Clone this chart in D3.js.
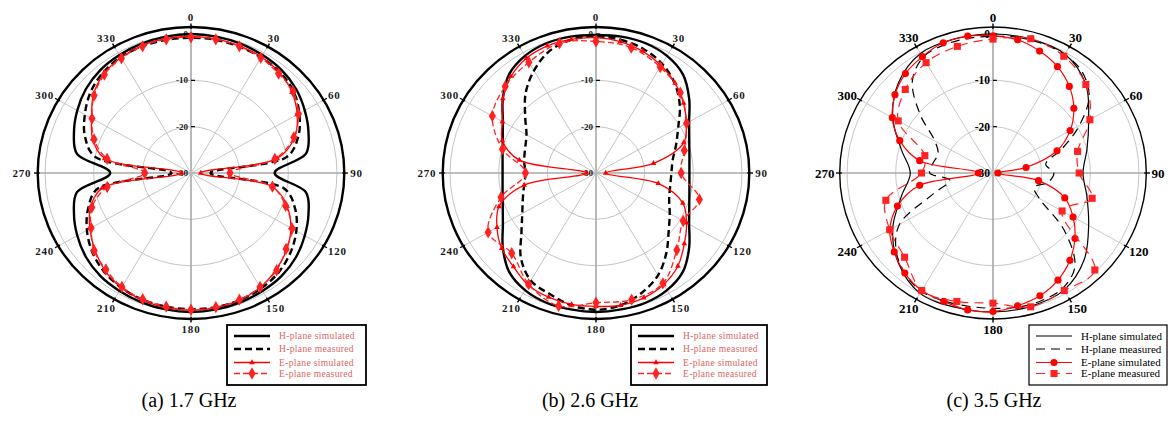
<!DOCTYPE html>
<html>
<head>
<meta charset="utf-8">
<script src="https://cdn.jsdelivr.net/npm/d3@7"></script>
<style>
  body { margin: 0; background: #fff; }
  text { font-family: "Liberation Serif", "Times New Roman", serif; }
</style>
</head>
<body>
<svg id="chart" width="1176" height="423"></svg>
<script>
// angles (deg, clockwise from top)
const anglesTen = [0,10,20,30,40,50,60,70,80,90,100,110,120,130,140,150,160,170,
                   180,190,200,210,220,230,240,250,260,270,280,290,300,310,320,330,340,350];
const anglesFifteen = [0,15,30,45,60,75,90,105,120,135,150,165,180,195,210,225,240,255,270,285,300,315,330,345];
const angleTicks = [0,30,60,90,120,150,180,210,240,270,300,330];
const dbTicks = [0,-10,-20,-30];
const seriesNames = ['H-plane simulated','H-plane measured','E-plane simulated','E-plane measured'];
const captions = ['(a) 1.7 GHz','(b) 2.6 GHz','(c) 3.5 GHz'];

// (a) 1.7 GHz, dB
const hSimA  = [0,-0.1,-0.3,-0.6,-1.0,-1.8,-3.0,-4.3,-6.0,-12.8,-6.0,-4.3,-3.0,-1.8,-1.0,-0.6,-0.3,-0.1,
                0,-0.1,-0.3,-0.6,-1.0,-1.8,-3.0,-4.4,-6.2,-13.4,-6.2,-4.4,-3.0,-1.8,-1.0,-0.6,-0.3,-0.1];
const hMeasA = [-0.8,-0.8,-1.0,-1.2,-1.6,-2.5,-4.3,-6.5,-10,-26,-10.5,-7.2,-5.0,-3.3,-2.0,-1.2,-0.8,-0.6,
                -0.6,-0.7,-0.9,-1.4,-2.2,-3.5,-5.3,-7.5,-10.5,-26,-10,-6.8,-4.8,-3.0,-1.8,-1.1,-0.9,-0.8];
const eSimA  = [-0.5,-0.6,-0.8,-1.1,-1.7,-2.9,-4.8,-7.3,-12,-28,-13,-9.0,-6.3,-4.3,-2.8,-1.5,-0.8,-0.5,
                -0.4,-0.5,-0.8,-1.4,-2.5,-4.2,-6.0,-8.0,-11.5,-28,-12,-8.5,-6.4,-3.8,-2.1,-1.2,-0.7,-0.5];
const eMeasA = [-0.7,-0.7,-0.9,-1.3,-2.0,-2.6,-4.5,-7.5,-12.5,-22,-13,-9.3,-6.0,-4.5,-2.6,-1.6,-0.9,-0.6,
                -0.5,-0.7,-1.0,-1.6,-2.8,-4.0,-6.3,-8.3,-12.5,-20.5,-12.5,-8.8,-6.5,-4.0,-2.3,-1.4,-0.9,-0.7];

// (b) 2.6 GHz
const hSimB  = [-0.2,-0.1,-0.2,-0.8,-2.2,-5.0,-7.9,-9.6,-10.5,-10.8,-10.5,-9.6,-7.9,-5.0,-2.2,-0.8,-0.2,-0.1,
                0,-0.1,-0.2,-0.8,-2.2,-5.0,-7.9,-9.6,-10.5,-10.8,-10.5,-9.6,-7.9,-5.0,-2.2,-0.8,-0.2,-0.1];
const hMeasB = [-0.5,-0.8,-1.5,-2.8,-4.8,-7.5,-10.5,-12.5,-14,-14.5,-14.5,-14,-12.5,-10.5,-7.5,-4.5,-2.5,-1.0,
                -0.5,-1.0,-2.2,-3.2,-6.0,-10.0,-12.5,-14.0,-15.0,-15.5,-15.0,-14.5,-13.5,-11.0,-7.5,-4.5,-2.0,-0.8];
const eSimB  = [-0.8,-1.2,-2.0,-3.2,-4.7,-6.5,-8.6,-10.8,-18,-28,-17,-11,-8.5,-6.3,-3.8,-2.2,-1.3,-1.0,
                -1.2,-1.2,-1.5,-2.1,-3.6,-4.7,-6.5,-8.8,-15,-28,-14,-9.5,-7.8,-5.0,-2.8,-1.4,-0.8,-0.7];
const eMeasB = [-1.6,-2.0,-3.6,-5.5,-8.5,-11.2,-12.5,-8.0,-9.3,-6.5,-2.5,-1.7,
                -2.0,-0.3,-2.3,-5.5,-4.4,-9.8,-15.5,-10.1,-5.4,-3.6,-2.4,-1.0];

// (c) 3.5 GHz
const hSimC  = [0,-0.1,-0.4,-3.0,-7.3,-10,-11.5,-10,-7.3,-3.5,-0.8,-0.2,
                0,0,0,-2.5,-6.2,-10.5,-13,-10.5,-6.2,-2.5,-0.2,0];
const hMeasC = [-0.5,-0.3,-0.3,-0.5,-1.5,-4.2,-9.5,-15,-19,-17.5,-18.5,-21,-19,-11,-3.8,-1.3,-0.7,-0.6,
                -0.8,-0.8,-0.6,-0.5,-1.8,-4.0,-7.8,-17,-21,-17,-17.5,-18,-16.2,-10.5,-4.2,-1.2,-0.6,-0.5];
const eSimC  = [-0.4,-0.8,-2.0,-3.5,-5.6,-8.3,-11.7,-16.0,-23.1,-29,-20.5,-14.3,-11.0,-8.0,-5.4,-3.3,-1.8,-0.9,
                -0.1,0,-0.5,-0.7,-1.8,-3.5,-5.5,-9.1,-14.7,-27,-14.7,-9.6,-6.1,-3.7,-2.0,-1.0,-0.1,0];
const eMeasC = [-1.1,0,-0.9,-3.0,-7.0,-12.0,-12.3,-8.9,-13.6,-0.4,-0.7,-0.1,
                -1.9,-1.3,-0.7,-4.3,-5.5,-7.2,-15.3,-15.5,-7.5,-4.5,-2.5,-1.7];

const svg = d3.select('#chart');
const cy = 173, kx = 1.05, rOuter = 146;
const r = d3.scaleLinear().domain([-30, 0]).range([0, 139]).clamp(true);
const rad = a => a * Math.PI / 180;

// two looks: the blurry Origin style of (a),(b) and the cleaner (c)
const oldLook = {hw: 2.4, hDash: '7,4', ew: 1.3, eDash: '6,3', outerW: 2.4, grid: '#c4c4c4', axis: '#a8a8a8',
  lab: 11, labW: 7, labFill: '#1a1a1a', rlab: 9, simSym: d3.symbolTriangle, simSize: 14, measSym: d3.symbolDiamond, measSize: 44,
  legText: '#d86464', legFont: 9.5, legSpace: 0.35};
const newLook = {hw: 1.2, hDash: '9,6', ew: 1.2, eDash: '9,6', outerW: 1.4, grid: '#c8c8c8', axis: '#a8a8a8',
  lab: 13, labW: 6.5, labFill: '#000', rlab: 11.5, simSym: d3.symbolCircle, simSize: 40, measSym: d3.symbolSquare, measSize: 50,
  legText: '#000', legFont: 11, legSpace: 0};

const panels = [
  {cx: 191, look: oldLook, capX: 189, legX: 227, legW: 139,
   series: [[anglesTen, hSimA], [anglesTen, hMeasA], [anglesTen, eSimA], [anglesTen, eMeasA]]},
  {cx: 596, look: oldLook, capX: 590, legX: 631, legW: 136,
   series: [[anglesTen, hSimB], [anglesTen, hMeasB], [anglesTen, eSimB], [anglesFifteen, eMeasB]]},
  {cx: 993, look: newLook, capX: 994, legX: 1029, legW: 138,
   series: [[anglesFifteen, hSimC], [anglesTen, hMeasC], [anglesTen, eSimC], [anglesFifteen, eMeasC]]}
];

function styleOf(look, i) {
  return [
    {color: '#000', width: look.hw, dash: null, sym: null},
    {color: '#000', width: look.hw, dash: look.hDash, sym: null},
    {color: '#f00', width: look.ew, dash: null, sym: look.simSym, size: look.simSize},
    {color: '#f22', width: look.ew, dash: look.eDash, sym: look.measSym, size: look.measSize}
  ][i];
}

panels.forEach((p, pi) => {
  const L = p.look;
  const g = svg.append('g');
  const pt = (a, v) => [p.cx + Math.sin(rad(a)) * r(v) * kx, cy - Math.cos(rad(a)) * r(v)];

  // grid rings
  g.selectAll('ellipse.grid').data([-20, -10, 0]).join('ellipse')
    .attr('cx', p.cx).attr('cy', cy)
    .attr('rx', d => r(d) * kx).attr('ry', d => r(d))
    .attr('fill', 'none').attr('stroke', L.grid).attr('stroke-width', 1);

  // spokes
  g.selectAll('line.spoke').data(angleTicks).join('line')
    .attr('x1', p.cx).attr('y1', cy)
    .attr('x2', d => p.cx + Math.sin(rad(d)) * rOuter * kx)
    .attr('y2', d => cy - Math.cos(rad(d)) * rOuter)
    .attr('stroke', d => d % 90 === 0 ? L.axis : L.grid)
    .attr('stroke-width', d => d % 90 === 0 ? 1.6 : 1);

  // outer ring + ticks
  g.append('ellipse').attr('cx', p.cx).attr('cy', cy)
    .attr('rx', rOuter * kx).attr('ry', rOuter)
    .attr('fill', 'none').attr('stroke', '#000').attr('stroke-width', L.outerW);
  g.selectAll('line.otick').data(angleTicks).join('line')
    .attr('x1', d => p.cx + Math.sin(rad(d)) * (rOuter - 2) * kx)
    .attr('y1', d => cy - Math.cos(rad(d)) * (rOuter - 2))
    .attr('x2', d => p.cx + Math.sin(rad(d)) * (rOuter + 3.5) * kx)
    .attr('y2', d => cy - Math.cos(rad(d)) * (rOuter + 3.5))
    .attr('stroke', '#000').attr('stroke-width', 1.4);

  // radial axis ticks and labels
  g.selectAll('line.rtick').data(dbTicks.slice(0, 3)).join('line')
    .attr('x1', p.cx).attr('x2', p.cx + 4)
    .attr('y1', d => cy - r(d)).attr('y2', d => cy - r(d))
    .attr('stroke', '#000').attr('stroke-width', 1.2);
  g.selectAll('text.rlab').data(dbTicks).join('text')
    .attr('x', p.cx - 3).attr('y', d => cy - r(d))
    .attr('dy', '0.35em').attr('text-anchor', 'end')
    .attr('font-size', L.rlab).attr('font-weight', 'bold').attr('fill', L.labFill)
    .text(d => d);

  // angle labels
  const rL = 151;
  g.selectAll('text.alab').data(angleTicks).join('text')
    .attr('x', d => p.cx + Math.sin(rad(d)) * (rL * kx + String(d).length * L.labW / 2))
    .attr('y', d => cy - Math.cos(rad(d)) * (rL + 5))
    .attr('dy', '0.35em').attr('text-anchor', 'middle')
    .attr('font-size', L.lab).attr('font-weight', 'bold').attr('fill', L.labFill)
    .attr('letter-spacing', L === oldLook ? 0.8 : 0)
    .text(d => d);

  // series
  const line = d3.line().curve(d3.curveCatmullRomClosed.alpha(0.5));
  p.series.forEach(([angles, values], si) => {
    const st = styleOf(L, si);
    const pts = angles.map((a, i) => pt(a, values[i]));
    g.append('path').attr('d', line(pts))
      .attr('fill', 'none').attr('stroke', st.color)
      .attr('stroke-width', st.width)
      .attr('stroke-dasharray', st.dash)
      .attr('stroke-linejoin', 'round');
    if (st.sym) {
      g.selectAll('path.m' + si).data(pts).join('path')
        .attr('transform', d => `translate(${d[0]},${d[1]})`)
        .attr('d', d3.symbol().type(st.sym).size(st.size))
        .attr('fill', st.color);
    }
  });

  // legend
  const lg = svg.append('g').attr('transform', `translate(${p.legX},325)`);
  lg.append('rect').attr('width', p.legW).attr('height', 60)
    .attr('fill', '#fff').attr('stroke', '#000').attr('stroke-width', L === oldLook ? 1.8 : 1.2);
  const rows = [11, 24, 37.5, 48.5];
  seriesNames.forEach((name, si) => {
    const st = styleOf(L, si);
    const y = rows[si];
    lg.append('line').attr('x1', 7).attr('x2', 43).attr('y1', y).attr('y2', y)
      .attr('stroke', st.color).attr('stroke-width', st.width)
      .attr('stroke-dasharray', st.dash);
    if (st.sym) {
      lg.append('path').attr('transform', `translate(25,${y})`)
        .attr('d', d3.symbol().type(st.sym).size(st.size)).attr('fill', st.color);
    }
    lg.append('text').attr('x', 52).attr('y', y).attr('dy', '0.35em')
      .attr('font-size', L.legFont).attr('fill', L.legText)
      .attr('letter-spacing', L.legSpace)
      .text(name);
  });

  svg.append('text').attr('x', p.capX).attr('y', 407)
    .attr('text-anchor', 'middle').attr('font-size', 20)
    .text(captions[pi]);
});
</script>
</body>
</html>
